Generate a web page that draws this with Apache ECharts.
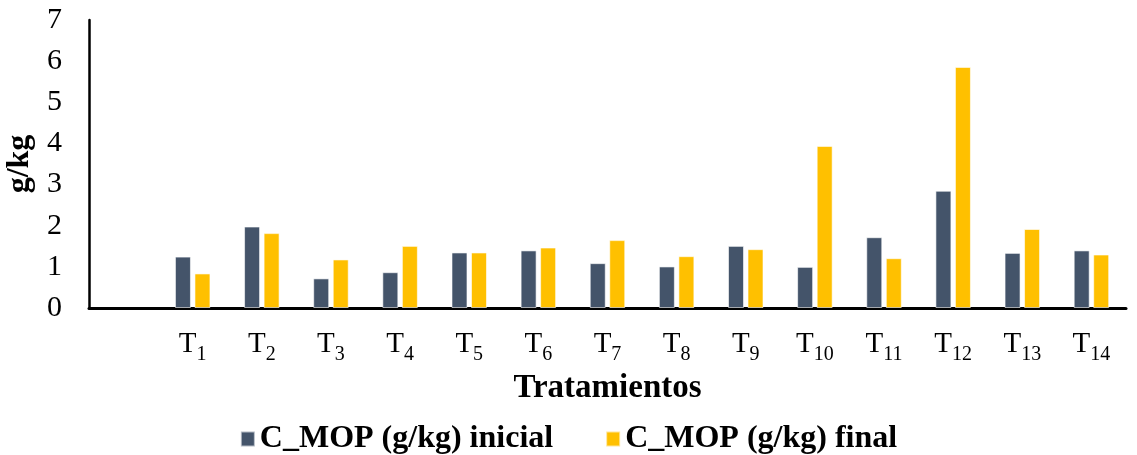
<!DOCTYPE html>
<html>
<head>
<meta charset="utf-8">
<script src="https://cdn.jsdelivr.net/npm/echarts@6/dist/echarts.min.js"></script>
<style>
html,body{margin:0;padding:0;background:#fff;}
#chart{width:1137px;height:455px;}
</style>
</head>
<body>
<div id="chart"></div>
<script>
var categories = ['', '1', '2', '3', '4', '5', '6', '7', '8', '9', '10', '11', '12', '13', '14'];
var inicial = [null, 1.25, 1.98, 0.72, 0.87, 1.35, 1.40, 1.09, 1.01, 1.51, 1.00, 1.72, 2.85, 1.34, 1.40];
var final = [null, 0.84, 1.82, 1.18, 1.51, 1.35, 1.47, 1.65, 1.26, 1.43, 3.94, 1.21, 5.86, 1.92, 1.30];
var yTicks = [0, 1, 2, 3, 4, 5, 6, 7];

var serif = '"Liberation Serif", "Times New Roman", serif';
var chart = echarts.init(document.getElementById('chart'));
chart.setOption({
  animation: false,
  color: ['#44546A', '#FFC000'],
  grid: {left: 89, right: 11, top: 20, bottom: 147, containLabel: false, outerBoundsMode: 'none'},
  legend: {
    data: ['C_MOP (g/kg) inicial', 'C_MOP (g/kg) final'],
    left: 'center', top: 418,
    icon: 'rect', itemWidth: 14, itemHeight: 15, itemGap: 52,
    textStyle: {fontFamily: serif, fontWeight: 'bold', fontSize: 32, color: '#000'}
  },
  xAxis: {
    type: 'category',
    data: categories,
    name: 'Tratamientos',
    nameLocation: 'middle',
    nameGap: 64,
    nameTextStyle: {fontFamily: serif, fontWeight: 'bold', fontSize: 33, color: '#000'},
    axisLine: {lineStyle: {color: '#000', width: 3}},
    axisTick: {show: false},
    axisLabel: {
      interval: 0, margin: 22,
      formatter: function (v) { return v === '' ? '' : '{t|T}{s|' + v + '}'; },
      rich: {
        t: {fontFamily: serif, fontSize: 29, lineHeight: 29, color: '#000', verticalAlign: 'top'},
        s: {fontFamily: serif, fontSize: 20, lineHeight: 20, color: '#000', verticalAlign: 'top', padding: [15, 0, 0, 0]}
      }
    }
  },
  yAxis: {
    type: 'value',
    min: yTicks[0], max: yTicks[yTicks.length - 1], interval: 1,
    name: 'g/kg',
    nameLocation: 'middle',
    nameGap: 46,
    nameRotate: 90,
    nameTextStyle: {fontFamily: serif, fontWeight: 'bold', fontSize: 32, color: '#000'},
    axisLine: {show: true, lineStyle: {color: '#000', width: 2.5}},
    axisTick: {show: false},
    splitLine: {show: false},
    axisLabel: {fontFamily: serif, fontSize: 30, color: '#000', margin: 27}
  },
  series: [
    {name: 'C_MOP (g/kg) inicial', type: 'bar', data: inicial, barWidth: 16, barGap: '22%',
     itemStyle: {borderColor: 'rgba(255,255,255,0.6)', borderWidth: 1}},
    {name: 'C_MOP (g/kg) final', type: 'bar', data: final, barWidth: 16, barGap: '22%',
     itemStyle: {borderColor: 'rgba(255,255,255,0.6)', borderWidth: 1}}
  ]
});
</script>
</body>
</html>
